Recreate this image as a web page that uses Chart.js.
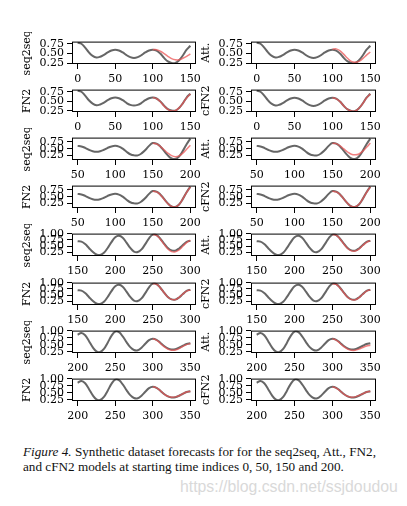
<!DOCTYPE html>
<html>
<head>
<meta charset="utf-8">
<script src="https://cdn.jsdelivr.net/npm/chart.js@4.4.0/dist/chart.umd.min.js"></script>
<style>
  html, body { margin: 0; padding: 0; background: #fff; }
  #page { position: relative; width: 407px; height: 506px; overflow: hidden; }
  .panel { position: absolute; }
  #caption { position: absolute; left: 23px; top: 445px; width: 384px; font: 13.2px 'Liberation Serif', serif; line-height: 14.5px; color: #111; white-space: nowrap; }
  #watermark { position: absolute; left: 180px; top: 478px; font: 15.8px 'Liberation Sans', sans-serif; color: #d9d9d9; white-space: nowrap; }
</style>
</head>
<body>
<div id="page">
  <div id="caption"><i>Figure 4.</i> Synthetic dataset forecasts for for the seq2seq, Att., FN2,<br>and cFN2 models at starting time indices 0, 50, 150 and 200.</div>
  <div id="watermark">https://blog.csdn.net/ssjdoudou</div>
</div>
<script>
/* Synthetic dataset forecasts — 4 start indices x 4 models, 16 small panels */

const timeSteps = [
  0, 5, 10, 15, 20, 25, 30, 35, 40, 45, 50, 55, 60, 65, 70, 75, 80, 85, 90, 95,
  100, 105, 110, 115, 120, 125, 130, 135, 140, 145, 150, 155, 160, 165, 170, 175, 180, 185, 190, 195,
  200, 205, 210, 215, 220, 225, 230, 235, 240, 245, 250, 255, 260, 265, 270, 275, 280, 285, 290, 295,
  300, 305, 310, 315, 320, 325, 330, 335, 340, 345, 350,
];

// ground truth signal (grey)
const truth = [
  0.78, 0.75, 0.65, 0.53, 0.44, 0.40, 0.42, 0.47, 0.53, 0.58, 0.60, 0.58, 0.53, 0.46, 0.41, 0.39, 0.41, 0.46, 0.53, 0.58,
  0.60, 0.575, 0.50, 0.39, 0.30, 0.26, 0.26, 0.33, 0.45, 0.60, 0.70, 0.68, 0.58, 0.42, 0.26, 0.15, 0.13, 0.22, 0.42, 0.66,
  0.86, 0.92, 0.84, 0.64, 0.42, 0.27, 0.25, 0.36, 0.58, 0.82, 0.97, 0.95, 0.80, 0.60, 0.42, 0.32, 0.31, 0.40, 0.54, 0.67,
  0.72, 0.68, 0.58, 0.46, 0.38, 0.34, 0.35, 0.40, 0.47, 0.53, 0.56,
];

const windowStarts = [0, 50, 150, 200];
const WINDOW_LEN = 150;
const FORECAST_FROM = 100;

const modelNames = ['seq2seq', 'Att.', 'FN2', 'cFN2'];

// forecasts (red), one list per start index, t = start+100 ... start+150
const forecastSeq2seq = [
  [0.60, 0.60, 0.56, 0.50, 0.43, 0.37, 0.34, 0.34, 0.38, 0.43, 0.49],
  [0.69, 0.67, 0.58, 0.46, 0.34, 0.25, 0.21, 0.24, 0.34, 0.48, 0.62],
  [0.97, 0.94, 0.78, 0.57, 0.38, 0.27, 0.26, 0.34, 0.49, 0.64, 0.74],
  [0.72, 0.67, 0.56, 0.44, 0.35, 0.31, 0.32, 0.37, 0.45, 0.51, 0.55],
];
const forecastAtt = [
  [0.61, 0.62, 0.57, 0.48, 0.38, 0.30, 0.28, 0.30, 0.37, 0.46, 0.54],
  [0.69, 0.68, 0.60, 0.49, 0.38, 0.30, 0.28, 0.31, 0.41, 0.55, 0.70],
  [0.97, 0.95, 0.79, 0.58, 0.40, 0.30, 0.29, 0.37, 0.52, 0.65, 0.72],
  [0.72, 0.67, 0.56, 0.44, 0.35, 0.31, 0.31, 0.35, 0.41, 0.46, 0.49],
];
const forecastFN2 = [
  [0.60, 0.57, 0.49, 0.38, 0.29, 0.25, 0.26, 0.33, 0.45, 0.59, 0.69],
  [0.69, 0.67, 0.57, 0.41, 0.25, 0.15, 0.13, 0.22, 0.42, 0.65, 0.85],
  [0.96, 0.95, 0.80, 0.60, 0.42, 0.32, 0.31, 0.40, 0.54, 0.66, 0.71],
  [0.72, 0.68, 0.58, 0.46, 0.38, 0.35, 0.36, 0.40, 0.47, 0.53, 0.56],
];
const forecastCFN2 = [
  [0.60, 0.57, 0.50, 0.39, 0.30, 0.26, 0.26, 0.33, 0.45, 0.59, 0.69],
  [0.69, 0.67, 0.58, 0.42, 0.26, 0.15, 0.14, 0.23, 0.42, 0.65, 0.85],
  [0.96, 0.94, 0.79, 0.59, 0.41, 0.31, 0.30, 0.39, 0.53, 0.66, 0.72],
  [0.72, 0.67, 0.57, 0.46, 0.38, 0.35, 0.36, 0.41, 0.47, 0.53, 0.56],
];

const xTickValues = [
  [0, 50, 100, 150],
  [50, 100, 150, 200],
  [150, 200, 250, 300],
  [200, 250, 300, 350],
];
const yTickValues = [0.25, 0.5, 0.75, 1.0];

/* ── layout ──────────────────────────────────────────────────────── */
const BOX_LEFT = [72, 251];
const BOX_W = [124, 125];
const BOX_TOP0 = 38;
const ROW_STEP = 48.1;
const BOX_H = 26;
const AXIS_W = 56;
const XAXIS_H = 24;
const PAD_TOP = 6;
const PAD_RIGHT = 14;

const TICK_FONT = { family: "'DejaVu Serif', serif", size: 11 };
const TITLE_FONT = { family: "'DejaVu Serif', serif", size: 11 };

const framePlugin = {
  id: 'frame',
  afterDraw(chart) {
    const { ctx, chartArea: a } = chart;
    ctx.save();
    ctx.strokeStyle = '#000';
    ctx.lineWidth = 1;
    ctx.strokeRect(a.left + 0.5, a.top + 0.5, a.right - a.left - 1, a.bottom - a.top - 1);
    ctx.restore();
  },
};

function toPoints(xs, ys) {
  return ys.map((y, k) => ({ x: xs[k], y }));
}

function renderPanel(row, col, w, model, forecast) {
  const start = windowStarts[w];
  const i0 = timeSteps.indexOf(start);
  const i1 = timeSteps.indexOf(start + WINDOW_LEN);
  const f0 = timeSteps.indexOf(start + FORECAST_FROM);

  const truthPts = toPoints(timeSteps.slice(i0, i1 + 1), truth.slice(i0, i1 + 1));
  const fcPts = toPoints(timeSteps.slice(f0, f0 + forecast.length), forecast);

  // matplotlib-like 5% margins
  const ys = truth.slice(i0, i1 + 1).concat(forecast);
  const lo = Math.min(...ys), hi = Math.max(...ys);
  const yPad = (hi - lo) * 0.05;
  const xPad = WINDOW_LEN * 0.05;

  const boxTop = Math.round(BOX_TOP0 + ROW_STEP * row);
  const cw = AXIS_W + BOX_W[col] + PAD_RIGHT;
  const ch = PAD_TOP + BOX_H + XAXIS_H;

  const div = document.createElement('div');
  div.className = 'panel';
  div.style.left = (BOX_LEFT[col] - AXIS_W) + 'px';
  div.style.top = (boxTop - PAD_TOP) + 'px';
  const canvas = document.createElement('canvas');
  canvas.width = cw;
  canvas.height = ch;
  canvas.style.width = cw + 'px';
  canvas.style.height = ch + 'px';
  div.appendChild(canvas);
  document.getElementById('page').appendChild(div);

  const tickGrid = { drawOnChartArea: false, drawTicks: true, tickLength: 5, color: '#000', lineWidth: 1 };

  new Chart(canvas.getContext('2d'), {
    type: 'line',
    data: {
      datasets: [
        { data: truthPts, borderColor: 'rgba(75,75,75,0.85)', borderWidth: 2, pointRadius: 0, tension: 0.4, order: 2 },
        { data: fcPts, borderColor: 'rgba(235,85,85,0.75)', borderWidth: 1.5, pointRadius: 0, tension: 0.4, order: 1 },
      ],
    },
    options: {
      responsive: false,
      animation: false,
      events: [],
      layout: { padding: { top: PAD_TOP, right: PAD_RIGHT, left: 0, bottom: 0 } },
      plugins: { legend: { display: false }, tooltip: { enabled: false } },
      scales: {
        x: {
          type: 'linear',
          min: start - xPad,
          max: start + WINDOW_LEN + xPad,
          afterBuildTicks: ax => { ax.ticks = xTickValues[w].map(v => ({ value: v })); },
          afterFit: s => { s.height = XAXIS_H; },
          grid: tickGrid,
          border: { display: false },
          ticks: { color: '#000', font: TICK_FONT, padding: 4, maxRotation: 0, autoSkip: false, callback: v => v },
        },
        y: {
          type: 'linear',
          min: lo - yPad,
          max: hi + yPad,
          afterBuildTicks: ax => {
            ax.ticks = yTickValues.filter(v => v >= ax.min && v <= ax.max).map(v => ({ value: v }));
          },
          afterFit: s => { s.width = AXIS_W; },
          grid: tickGrid,
          border: { display: false },
          ticks: { color: '#000', font: TICK_FONT, padding: 3, autoSkip: false, callback: v => v.toFixed(2) },
          title: { display: true, text: model, color: '#000', font: TITLE_FONT, padding: { top: 5, bottom: 0 } },
        },
      },
    },
    plugins: [framePlugin],
  });
}

/* ── Render all ──────────────────────────────────────────────────── */
windowStarts.forEach((s, w) => {
  renderPanel(2 * w, 0, w, modelNames[0], forecastSeq2seq[w]);
  renderPanel(2 * w, 1, w, modelNames[1], forecastAtt[w]);
  renderPanel(2 * w + 1, 0, w, modelNames[2], forecastFN2[w]);
  renderPanel(2 * w + 1, 1, w, modelNames[3], forecastCFN2[w]);
});
</script>
</body>
</html>
